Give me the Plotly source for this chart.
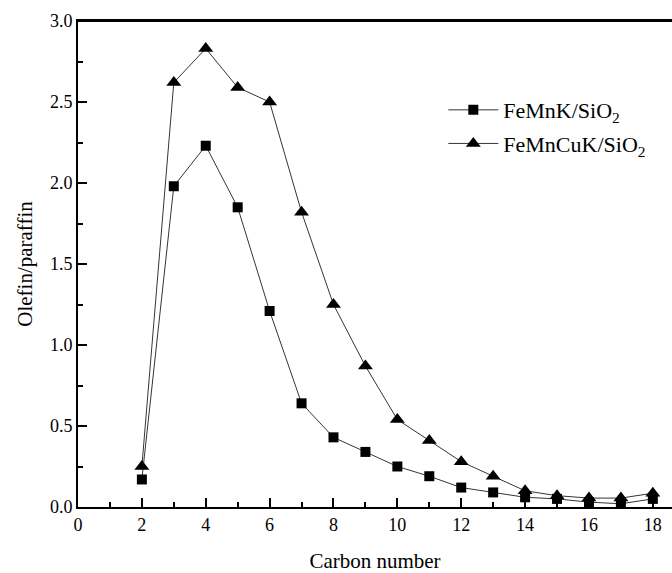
import plotly.graph_objects as go

carbon = [2, 3, 4, 5, 6, 7, 8, 9, 10, 11, 12, 13, 14, 15, 16, 17, 18]
femnk = [0.17, 1.98, 2.23, 1.85, 1.21, 0.64, 0.43, 0.34, 0.25, 0.19, 0.12, 0.09, 0.06, 0.05, 0.03, 0.02, 0.05]
femncuk = [0.25, 2.62, 2.83, 2.59, 2.50, 1.82, 1.25, 0.87, 0.54, 0.41, 0.28, 0.19, 0.10, 0.07, 0.055, 0.055, 0.085]
series_names = ["FeMnK/SiO<sub>2</sub>", "FeMnCuK/SiO<sub>2</sub>"]

FONT = "Liberation Serif, Times New Roman, serif"

fig = go.Figure()
fig.add_trace(go.Scatter(x=carbon, y=femnk, name=series_names[0], mode="lines+markers",
                         legendgroup="a",
                         line=dict(color="black", width=0.8),
                         marker=dict(symbol="square", size=10, color="black"),
                         cliponaxis=False))
fig.add_trace(go.Scatter(x=carbon, y=femncuk, name=series_names[1], mode="lines+markers",
                         legendgroup="b",
                         line=dict(color="black", width=0.8),
                         marker=dict(symbol="triangle-up", size=13, color="black"),
                         cliponaxis=False))

fig.update_layout(
    width=672, height=573,
    margin=dict(l=78, r=0, t=21, b=66),
    paper_bgcolor="white", plot_bgcolor="white",
    font=dict(family=FONT, color="black", size=17),
    showlegend=True,
    legend=dict(x=0.615, y=0.86, xanchor="left", yanchor="top",
                bgcolor="rgba(0,0,0,0)", font=dict(size=22, family=FONT),
                itemwidth=50, tracegroupgap=2),
    xaxis=dict(range=[0, 18.6], tickmode="array", tickvals=list(range(0, 19, 2)),
               ticks="inside", ticklen=9, tickwidth=1.5, tickcolor="black",
               minor=dict(ticks="inside", ticklen=5, tickwidth=1.5, tickcolor="black", dtick=1),
               showline=True, linewidth=2, linecolor="black", mirror=True,
               showgrid=False, zeroline=False,
               title=dict(text="Carbon number", font=dict(size=21, family=FONT), standoff=22),
               tickfont=dict(size=18, family=FONT)),
    yaxis=dict(range=[0, 3.0], tickmode="array", tickvals=[0, 0.5, 1.0, 1.5, 2.0, 2.5, 3.0],
               ticktext=["0.0", "0.5", "1.0", "1.5", "2.0", "2.5", "3.0"],
               ticks="inside", ticklen=9, tickwidth=1.5, tickcolor="black",
               minor=dict(ticks="inside", ticklen=5, tickwidth=1.5, tickcolor="black", dtick=0.25),
               showline=True, linewidth=2, linecolor="black",
               showgrid=False, zeroline=False,
               title=dict(text="Olefin/paraffin", font=dict(size=21, family=FONT), standoff=12),
               tickfont=dict(size=18, family=FONT)),
)
# top frame line of the plot area
fig.add_shape(type="line", xref="paper", yref="paper", x0=0, x1=1, y0=1, y1=1,
              line=dict(color="black", width=2), layer="above")

fig.write_html("out.html", config={"displayModeBar": False},
               post_script="document.body.style.margin='0';document.body.style.padding='0';")
